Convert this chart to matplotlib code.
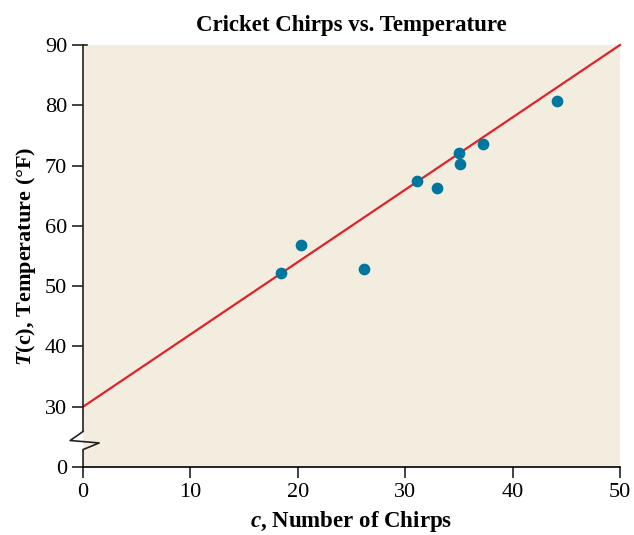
import matplotlib.pyplot as plt
import numpy as np

# data
chirps = [18.4, 20.3, 26.2, 31.1, 33.0, 35.0, 35.1, 37.2, 44.1]
temps = [52.1, 56.8, 52.9, 67.5, 66.2, 72.0, 70.2, 73.5, 80.7]
fit_x = [0, 50]
fit_y = [30, 90]
xticks = [0, 10, 20, 30, 40, 50]
yticks = [20, 30, 40, 50, 60, 70, 80, 90]
ytick_labels = ['0', '30', '40', '50', '60', '70', '80', '90']

plt.rcParams['font.family'] = 'Liberation Serif'
plt.rcParams['mathtext.fontset'] = 'custom'
plt.rcParams['mathtext.it'] = 'Liberation Serif:bold:italic'
plt.rcParams['mathtext.rm'] = 'Liberation Serif:bold'

fig = plt.figure(figsize=(6.34, 5.35), dpi=100)
ax = fig.add_axes([0.131, 0.127, 0.847, 0.789])
ax.set_facecolor('#f3ede0')

ax.plot(fit_x, fit_y, color='#e0232a', lw=1.6, zorder=2, clip_on=False)
ax.scatter(chirps, temps, s=55, color='#00769e', zorder=3)

ax.set_xlim(0, 50)
ax.set_ylim(20, 90)
ax.set_xticks(xticks)
ax.set_yticks(yticks)
ax.set_yticklabels(ytick_labels)
ax.tick_params(labelsize=16, length=8, width=1.2, color='#222222', direction='out')

for s in ['top', 'right', 'left']:
    ax.spines[s].set_visible(False)
ax.spines['bottom'].set_linewidth(1.2)

# left spine with a break between 0 and 30
tr = ax.get_yaxis_transform()
ax.plot([0, 0], [25.9, 90], transform=tr, color='#222222', lw=1.2, clip_on=False)
ax.plot([0, -0.024, 0.030, 0, 0], [25.9, 24.4, 24.0, 22.9, 20],
        transform=tr, color='#222222', lw=1.2, clip_on=False)
ax.plot([0, 0.008], [90, 90], transform=tr, color='#222222', lw=1.2, clip_on=False)

ax.set_title('Cricket Chirps vs. Temperature', fontsize=16.5, fontweight='bold', pad=10)
ax.set_xlabel(r'$c$, Number of Chirps', fontsize=16.5, fontweight='bold', labelpad=5)
ax.set_ylabel(r'$T$(c), Temperature (°F)', fontsize=16, fontweight='bold', labelpad=5)

fig.savefig('out.png', dpi=100)
